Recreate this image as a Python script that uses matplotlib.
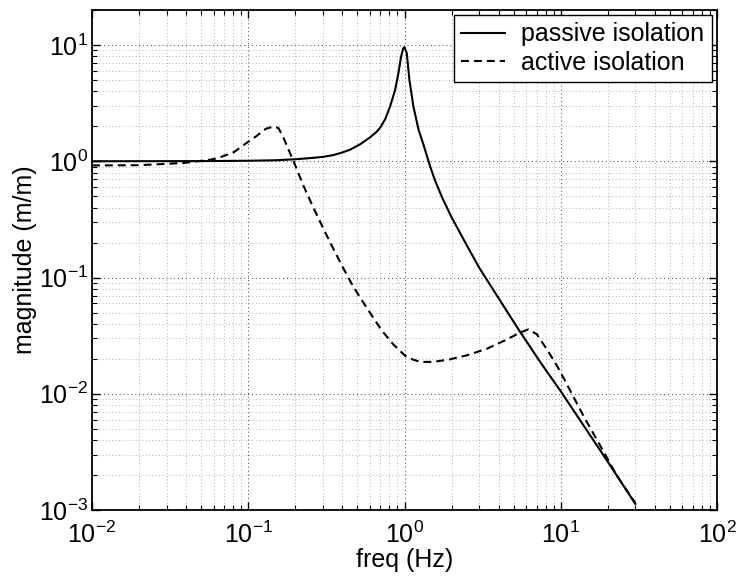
import matplotlib
matplotlib.use("Agg")
import matplotlib.pyplot as plt

plt.rcParams["font.family"] = ["Liberation Sans", "DejaVu Sans"]
plt.rcParams["mathtext.fontset"] = "custom"
plt.rcParams["mathtext.rm"] = "Liberation Sans"
plt.rcParams["mathtext.default"] = "regular"

# passive isolation
passive_freq = [0.01, 0.05, 0.1, 0.15, 0.2, 0.25, 0.3, 0.35, 0.4, 0.45, 0.52, 0.6,
                0.665, 0.7, 0.752, 0.809, 0.871, 0.914, 0.951, 0.98, 1.0, 1.034,
                1.075, 1.14, 1.23, 1.32, 1.46, 1.57, 1.75, 2.0, 2.5, 3.0, 3.62, 4.3,
                5.5, 7.5, 10, 20, 30]
passive_mag = [1.0, 1.003, 1.01, 1.02, 1.04, 1.065, 1.09, 1.13, 1.19, 1.26, 1.4, 1.6,
               1.8, 1.95, 2.3, 2.96, 4.11, 5.72, 7.94, 9.3, 9.57, 8.5,
               5.0, 2.96, 1.87, 1.4, 0.9, 0.68, 0.48, 0.33, 0.19, 0.122, 0.082, 0.057,
               0.034, 0.0182, 0.0105, 0.0026, 0.00113]

# active isolation
active_freq = [0.01, 0.02, 0.0384, 0.0569, 0.0644, 0.0811, 0.0964, 0.1117, 0.1294,
               0.145, 0.156, 0.168, 0.181, 0.195, 0.225, 0.261, 0.303, 0.351, 0.406,
               0.471, 0.588, 0.716, 0.85, 1.01, 1.13, 1.26, 1.53, 1.96, 2.5, 3.37,
               4.3, 5.5, 6.2, 7.03, 8.15, 9.44, 10.9, 13.96, 17.9, 22.9, 30]
active_mag = [0.92, 0.925, 0.966, 1.03, 1.067, 1.2, 1.42, 1.63, 1.90,
              1.99, 1.93, 1.6, 1.26, 1.0, 0.62, 0.40, 0.262, 0.176, 0.120,
              0.083, 0.052, 0.035, 0.0265, 0.0212, 0.0197, 0.0188, 0.0188, 0.0198,
              0.0214, 0.0244, 0.0284, 0.0336, 0.0358, 0.0325, 0.0241, 0.0175, 0.0122,
              0.00646, 0.00357, 0.00197, 0.00115]

fig = plt.figure(figsize=(7.37, 5.78), dpi=100)
ax = fig.add_axes([0.1248, 0.1176, 0.8481, 0.8651])

ax.loglog(passive_freq, passive_mag, color="k", lw=1.5, label="passive isolation")
ax.loglog(active_freq, active_mag, color="k", lw=1.5, dashes=(3.8, 2.4),
          label="active isolation")

ax.set_xlim(1e-2, 1e2)
ax.set_ylim(1e-3, 20)

# сетка в стиле matlab
ax.grid(True, which="major", linestyle=(0, (1, 3)), color="0.25", lw=0.7)
ax.grid(True, which="minor", linestyle=(0, (1, 3)), color="0.6", lw=0.6)

ax.tick_params(which="both", direction="in", top=True, right=True, labelsize=18)
ax.tick_params(which="major", length=6, width=1.0)
ax.tick_params(which="minor", length=3.5, width=0.8)
ax.tick_params(axis="x", which="major", pad=8)
ax.tick_params(axis="y", which="major", pad=3)
for s in ax.spines.values():
    s.set_linewidth(1.3)

ax.set_xlabel("freq (Hz)", fontsize=18, labelpad=0)
ax.set_ylabel("magnitude (m/m)", fontsize=18, labelpad=1.5)

leg = ax.legend(loc="upper right", fontsize=18, handlelength=1.75, borderaxespad=0.2,
                labelspacing=0.18, borderpad=0.3, handletextpad=0.65, fancybox=False,
                framealpha=1, edgecolor="k")
leg.get_frame().set_linewidth(1.0)

fig.savefig("out.png", dpi=100)
